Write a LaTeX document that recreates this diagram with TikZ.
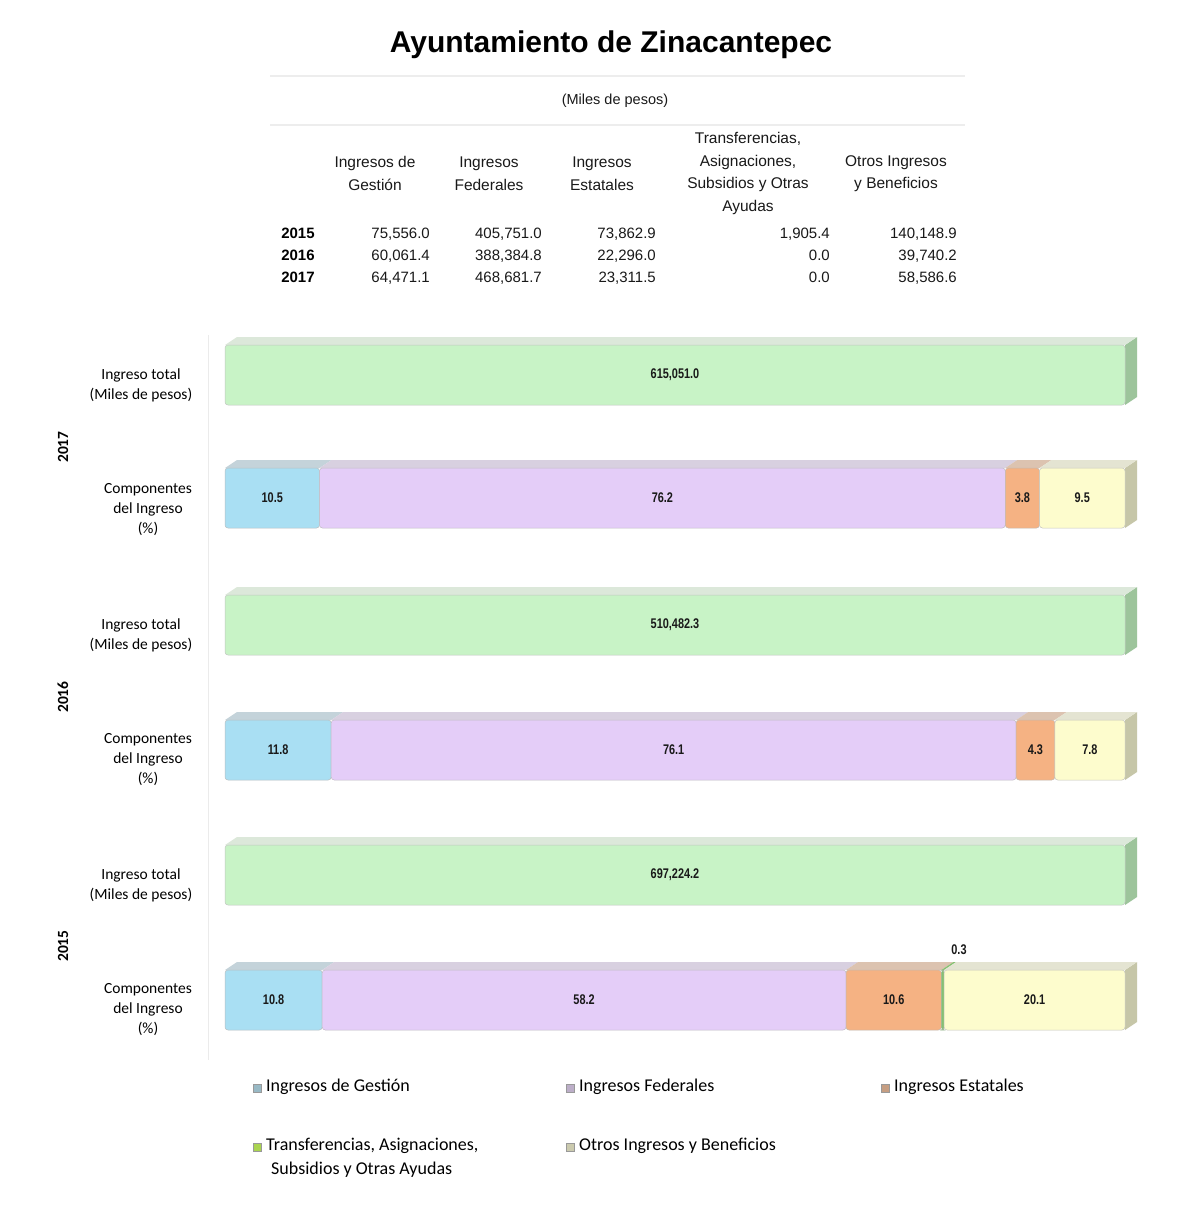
\documentclass[tikz,border=0pt]{standalone}
\usepackage{fontspec}
\setmainfont{Liberation Sans}
\newfontfamily\calib{Carlito}
\newfontfamily\narrowlab[FakeStretch=0.78]{Liberation Sans}
\definecolor{gfront}{HTML}{C8F3C6}
\definecolor{gside}{HTML}{9DC49B}
\definecolor{gtop}{HTML}{DCE8DA}
\definecolor{bfront}{HTML}{A9DFF3}
\definecolor{btop}{HTML}{C4D3DA}
\definecolor{pfront}{HTML}{E4CDF8}
\definecolor{ptop}{HTML}{D8D0E0}
\definecolor{ofront}{HTML}{F5B283}
\definecolor{otop}{HTML}{DCC3B0}
\definecolor{yfront}{HTML}{FDFCCD}
\definecolor{ytop}{HTML}{E4E4D2}
\definecolor{yside}{HTML}{C6C6A8}
\definecolor{tfront}{HTML}{86C172}
\tikzset{
  segbox/.style={rounded corners=3pt, minimum height=60pt, inner sep=0pt, outer sep=0pt,
    font=\narrowlab\bfseries\fontsize{14}{16}\selectfont, text=black!90},
  hdr/.style={align=center, font=\fontsize{15.5}{22.5}\selectfont, text=black!90},
  num/.style={anchor=base east, inner sep=0pt, font=\fontsize{15}{18}\selectfont, text=black!90},
  yr/.style={anchor=base, inner sep=0pt, font=\bfseries\fontsize{15}{18}\selectfont, text=black},
  lbl/.style={align=center, font=\calib\fontsize{15.5}{20}\selectfont, text=black},
  yrv/.style={rotate=90, font=\calib\bfseries\fontsize{15.5}{18}\selectfont, text=black},
  legtxt/.style={anchor=west, inner sep=0pt, align=left, font=\calib\fontsize{18}{24}\selectfont, text=black},
  legmark/.style={minimum size=8pt, inner sep=0pt, draw=black!40, line width=0.4pt},
}
\newcommand\seg[7]{%
  \fill[#6] (#2,#4) -- ({#2+12},{#4-8}) -- ({#3+12},{#4-8}) -- (#3,#4) -- cycle;
  \node[segbox, fill=#5, draw=#6!70!black!60, line width=0.5pt, minimum width={(#3-#2)*1pt}, anchor=north west] (#1) at (#2,#4) {#7};}
\newcommand\sideface[3]{%
  \fill[#3] (#1,#2) -- ({#1+12},{#2-8}) -- ({#1+12},{#2+52}) -- (#1,{#2+60}) -- cycle;}
\begin{document}
\begin{tikzpicture}[x=1pt,y=-1pt]
\useasboundingbox (0,0) rectangle (1199,1213);
\fill[white] (0,0) rectangle (1199,1213);
% title and table
\node[font=\bfseries\fontsize{30}{36}\selectfont] (title) at (611,45) {Ayuntamiento de Zinacantepec};
\draw[black!7, line width=2.5pt] (270,76) -- (965,76);
\draw[black!7, line width=2.5pt] (270,125) -- (965,125);
\node[font=\fontsize{14.5}{18}\selectfont, text=black!90] (unit) at (615,101) {(Miles de pesos)};
\node[hdr] (h1) at (375,173.5) {Ingresos de\\Gestión};
\node[hdr] (h2) at (489,173.5) {Ingresos\\Federales};
\node[hdr] (h3) at (602,173.5) {Ingresos\\Estatales};
\node[hdr] (h4) at (748,173.5) {Transferencias,\\Asignaciones,\\Subsidios y Otras\\Ayudas};
\node[hdr] (h5) at (896,173.5) {Otros Ingresos\\y Beneficios};
\node[yr] (y15) at (298,238) {2015};
\node[yr] (y16) at (298,260) {2016};
\node[yr] (y17) at (298,282) {2017};
\node[num] (a1) at (430,238) {75,556.0};
\node[num] (a2) at (542,238) {405,751.0};
\node[num] (a3) at (656,238) {73,862.9};
\node[num] (a4) at (830,238) {1,905.4};
\node[num] (a5) at (957,238) {140,148.9};
\node[num] (b1) at (430,260) {60,061.4};
\node[num] (b2) at (542,260) {388,384.8};
\node[num] (b3) at (656,260) {22,296.0};
\node[num] (b4) at (830,260) {0.0};
\node[num] (b5) at (957,260) {39,740.2};
\node[num] (c1) at (430,282) {64,471.1};
\node[num] (c2) at (542,282) {468,681.7};
\node[num] (c3) at (656,282) {23,311.5};
\node[num] (c4) at (830,282) {0.0};
\node[num] (c5) at (957,282) {58,586.6};
% chart axis line
\draw[black!8, line width=1pt] (208,335) -- (208,1060);
% left labels
\node[lbl] (l17a) at (141,385) {Ingreso total\\(Miles de pesos)};
\node[lbl] (l17b) at (148,510) {Componentes\\del Ingreso\\(\%)};
\node[lbl] (l16a) at (141,635) {Ingreso total\\(Miles de pesos)};
\node[lbl] (l16b) at (148,760) {Componentes\\del Ingreso\\(\%)};
\node[lbl] (l15a) at (141,885) {Ingreso total\\(Miles de pesos)};
\node[lbl] (l15b) at (148,1010) {Componentes\\del Ingreso\\(\%)};
\node[yrv] (v17) at (63,447) {2017};
\node[yrv] (v16) at (63,697) {2016};
\node[yrv] (v15) at (63,946) {2015};
% 2017
\sideface{1125}{345}{gside}
\seg{t17}{225}{1125}{345}{gfront}{gtop}{615,051.0}
\sideface{1125}{468}{yside}
\seg{s17a}{225}{319.5}{468}{bfront}{btop}{10.5}
\seg{s17b}{319.5}{1005.3}{468}{pfront}{ptop}{76.2}
\seg{s17c}{1005.3}{1039.5}{468}{ofront}{otop}{3.8}
\seg{s17e}{1039.5}{1125}{468}{yfront}{ytop}{9.5}
% 2016
\sideface{1125}{595}{gside}
\seg{t16}{225}{1125}{595}{gfront}{gtop}{510,482.3}
\sideface{1125}{720}{yside}
\seg{s16a}{225}{331.2}{720}{bfront}{btop}{11.8}
\seg{s16b}{331.2}{1016.1}{720}{pfront}{ptop}{76.1}
\seg{s16c}{1016.1}{1054.8}{720}{ofront}{otop}{4.3}
\seg{s16e}{1054.8}{1125}{720}{yfront}{ytop}{7.8}
% 2015
\sideface{1125}{845}{gside}
\seg{t15}{225}{1125}{845}{gfront}{gtop}{697,224.2}
\sideface{1125}{970}{yside}
\seg{s15a}{225}{322.2}{970}{bfront}{btop}{10.8}
\seg{s15b}{322.2}{846}{970}{pfront}{ptop}{58.2}
\seg{s15c}{846}{941.4}{970}{ofront}{otop}{10.6}
\seg{s15d}{941.4}{944.1}{970}{tfront}{tfront}{}
\seg{s15e}{944.1}{1125}{970}{yfront}{ytop}{20.1}
\node[font=\narrowlab\bfseries\fontsize{14}{16}\selectfont, text=black!90] (p03) at (959,950) {0.3};
% legend
\node[legmark, fill=bfront!60!gray] (m1) at (257,1088) {};
\node[legtxt] (g1) at (266,1087) {Ingresos de Gestión};
\node[legmark, fill=pfront!60!gray] (m2) at (570,1088) {};
\node[legtxt] (g2) at (579,1087) {Ingresos Federales};
\node[legmark, fill=ofront!60!gray] (m3) at (885,1088) {};
\node[legtxt] (g3) at (894,1087) {Ingresos Estatales};
\node[legmark, fill=tfront!70!yellow] (m4) at (257,1147) {};
\node[legtxt] (g4) at (266,1158) {Transferencias, Asignaciones,\\\hspace*{5pt}Subsidios y Otras Ayudas};
\node[legmark, fill=yfront!60!gray] (m5) at (570,1147) {};
\node[legtxt] (g5) at (579,1146) {Otros Ingresos y Beneficios};
\end{tikzpicture}
\end{document}
